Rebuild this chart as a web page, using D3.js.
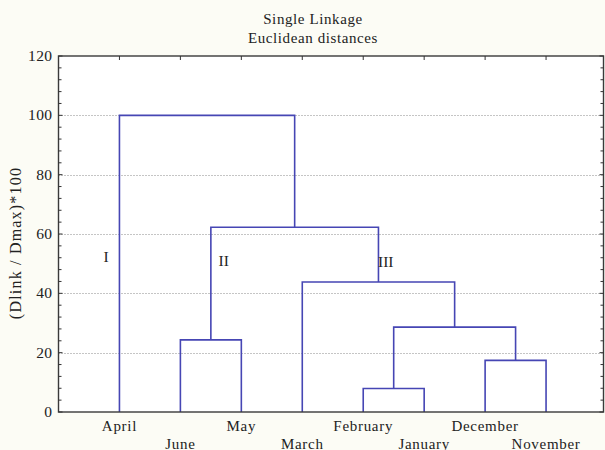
<!DOCTYPE html>
<html><head><meta charset="utf-8">
<script src="https://cdn.jsdelivr.net/npm/d3@7"></script>
<style>
html,body{margin:0;padding:0;background:#fcfcf5;}
svg{display:block;}
text{font-family:"Liberation Serif","Times New Roman",serif;fill:#222;}
</style></head>
<body>
<svg id="c" width="605" height="450"></svg>
<script>
// Leaf order (left to right)
const leaves = ["April","June","May","March","February","January","December","November"];
// Merges: [left child, right child, linkage distance (Dlink/Dmax)*100]
const merges = [
  ["February","January",7.9],
  ["December","November",17.4],
  ["June","May",24.3],
  ["M1","M2",28.6],
  ["March","M4",43.8],
  ["M3","M5",62.3],
  ["April","M6",100]
];
const yTicks = [0,20,40,60,80,100,120];
const clusterLabels = [
  {text:"I", pos:-0.22, v:52.2},
  {text:"II", pos:1.71, v:50.8},
  {text:"III", pos:4.37, v:50.5},
];
const title = ["Single Linkage","Euclidean distances"];
const yTitle = "(Dlink / Dmax)*100";

const svg = d3.select("#c");
const L = 58.5, R = 603.5, T = 56, B = 412;
const x = d3.scaleLinear().domain([-1, 8]).range([58.5, 607]);
const y = d3.scaleLinear().domain([0, 120]).range([B, T]);

// plot background
svg.append("rect").attr("x",L).attr("y",T).attr("width",R-L).attr("height",B-T).attr("fill","#fff");

// gridlines
svg.append("g").selectAll("line").data(yTicks.filter(v=>v>0&&v<120)).join("line")
  .attr("x1",L).attr("x2",R).attr("y1",d=>Math.round(y(d))+0.5).attr("y2",d=>Math.round(y(d))+0.5)
  .attr("stroke","#8a8a8a").attr("stroke-width",1).attr("stroke-dasharray","1,2");

// dendrogram
const nodes = {};
leaves.forEach((n,i)=>nodes[n]={x:x(i),h:0});
const links = [];
merges.forEach((m,i)=>{
  const a = nodes[m[0]], b = nodes[m[1]];
  links.push({a,b,h:m[2]});
  nodes["M"+(i+1)] = {x:(a.x+b.x)/2, h:m[2]};
});
svg.append("g").selectAll("path").data(links).join("path")
  .attr("d",d=>`M${d.a.x},${y(d.a.h)}V${y(d.h)}H${d.b.x}V${y(d.b.h)}`)
  .attr("fill","none").attr("stroke","#4646b4").attr("stroke-width",1.6);

// frame
svg.append("rect").attr("x",L).attr("y",T).attr("width",R-L).attr("height",B-T)
  .attr("fill","none").attr("stroke","#3a3a3a").attr("stroke-width",1.4);

// minor ticks, left and right
const minor = d3.range(0,121,4);
svg.append("g").selectAll("line").data(minor).join("line")
  .attr("x1",L).attr("x2",d=>L+(d%20===0?4:3)).attr("y1",d=>y(d)).attr("y2",d=>y(d))
  .attr("stroke","#333").attr("stroke-width",1);
svg.append("g").selectAll("line").data(minor).join("line")
  .attr("x1",R).attr("x2",d=>R-(d%20===0?4:3)).attr("y1",d=>y(d)).attr("y2",d=>y(d))
  .attr("stroke","#333").attr("stroke-width",1);
// top ticks at leaf positions
svg.append("g").selectAll("line").data(leaves).join("line")
  .attr("x1",(d,i)=>x(i)).attr("x2",(d,i)=>x(i)).attr("y1",T).attr("y2",T+4)
  .attr("stroke","#333").attr("stroke-width",1);

// y tick labels
svg.append("g").selectAll("text").data(yTicks).join("text")
  .attr("x",L-6).attr("y",d=>y(d)+5).attr("text-anchor","end")
  .attr("font-size",15.5).attr("letter-spacing",0.4).text(d=>d);

// y title
svg.append("text").attr("transform",`translate(21,243) rotate(-90)`)
  .attr("text-anchor","middle").attr("font-size",16).attr("letter-spacing",1.2).text(yTitle);

// x labels, staggered
svg.append("g").selectAll("text").data(leaves).join("text")
  .attr("x",(d,i)=>x(i)).attr("y",(d,i)=>i%2===0?431:449)
  .attr("text-anchor","middle").attr("font-size",15).attr("letter-spacing",0.7).text(d=>d);

// title
svg.append("g").selectAll("text").data(title).join("text")
  .attr("x",313).attr("y",(d,i)=>24+i*19).attr("text-anchor","middle")
  .attr("font-size",15).attr("letter-spacing",0.6).text(d=>d);

// cluster labels
svg.append("g").selectAll("text").data(clusterLabels).join("text")
  .attr("x",d=>x(d.pos)).attr("y",d=>y(d.v)+5).attr("text-anchor","middle")
  .attr("font-size",15.5).text(d=>d.text);
</script>
</body></html>
